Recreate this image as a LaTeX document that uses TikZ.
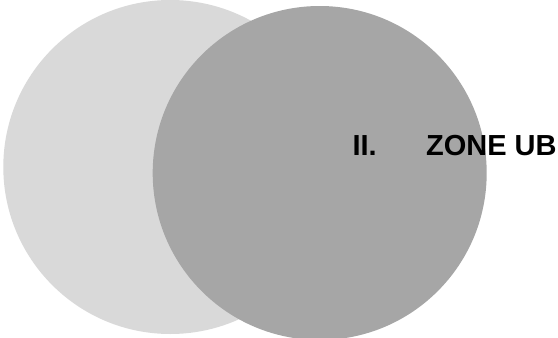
\documentclass[tikz,border=0pt]{standalone}
\usepackage{fontspec}
\setmainfont{Liberation Sans}
\usepackage{xcolor}
\usepackage{tikz}
\definecolor{lightzone}{HTML}{D9D9D9}
\definecolor{darkzone}{HTML}{A6A6A6}

\begin{document}
\begin{tikzpicture}[x=1pt,y=-1pt,font=\bfseries\fontsize{29}{34}\selectfont]
  \useasboundingbox (0,0) rectangle (558,338);
  \fill[lightzone] (170.3,167) circle [radius=167];
  \fill[darkzone] (319.7,173) circle [radius=167];
  \node[anchor=base west,inner sep=0pt] (zone) at (352.4,155) {II.\hspace{49.3pt}ZONE UB};
\end{tikzpicture}
\end{document}
